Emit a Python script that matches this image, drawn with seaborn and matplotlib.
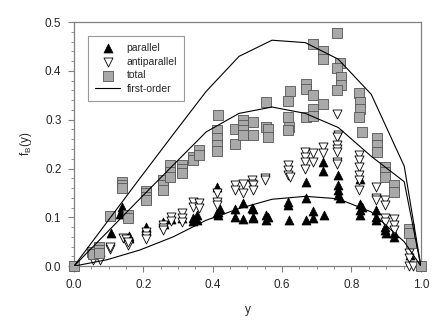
import matplotlib
matplotlib.use("Agg")
import matplotlib.pyplot as plt
import seaborn as sns
from matplotlib.ticker import MultipleLocator

# parallel (black up-triangles)
par_x = [0.0, 0.106, 0.137, 0.137, 0.134, 0.159, 0.159, 0.207, 0.207, 0.257, 0.26,
         0.279, 0.31, 0.344, 0.344, 0.354, 0.354, 0.411, 0.416, 0.416, 0.411, 0.421,
         0.464, 0.464, 0.486, 0.488, 0.512, 0.517, 0.515, 0.515, 0.555, 0.555, 0.56,
         0.618, 0.618, 0.62, 0.669, 0.669, 0.669, 0.69, 0.69, 0.718, 0.718, 0.72,
         0.762, 0.762, 0.762, 0.762, 0.767, 0.824, 0.824, 0.824, 0.824, 0.829,
         0.872, 0.872, 0.872, 0.896, 0.896, 0.899, 0.922, 0.922, 0.968, 1.0]
par_y = [0.0, 0.068, 0.122, 0.114, 0.107, 0.061, 0.057, 0.08, 0.074, 0.091, 0.086,
         0.096, 0.098, 0.098, 0.093, 0.105, 0.094, 0.163, 0.111, 0.105, 0.108, 0.118,
         0.118, 0.101, 0.13, 0.096, 0.12, 0.101, 0.118, 0.098, 0.105, 0.094, 0.1,
         0.132, 0.125, 0.094, 0.173, 0.139, 0.094, 0.113, 0.098, 0.214, 0.195, 0.105,
         0.186, 0.166, 0.156, 0.145, 0.139, 0.178, 0.128, 0.115, 0.105, 0.122,
         0.115, 0.1, 0.094, 0.081, 0.074, 0.067, 0.067, 0.06, 0.023, 0.0]

# antiparallel (white down-triangles)
anti_x = [0.0, 0.054, 0.075, 0.104, 0.104, 0.14, 0.15, 0.156, 0.156, 0.207, 0.207, 0.207,
          0.257, 0.257, 0.257, 0.279, 0.279, 0.31, 0.31, 0.31, 0.344, 0.344, 0.361, 0.361,
          0.411, 0.411, 0.411, 0.464, 0.464, 0.488, 0.488, 0.512, 0.512, 0.515, 0.515,
          0.55, 0.55, 0.618, 0.618, 0.618, 0.622, 0.666, 0.666, 0.666, 0.666, 0.69, 0.69,
          0.718, 0.718, 0.759, 0.762, 0.759, 0.759, 0.759, 0.759, 0.759, 0.759,
          0.822, 0.822, 0.822, 0.822, 0.822, 0.822, 0.872, 0.87, 0.872, 0.896, 0.896,
          0.896, 0.896, 0.922, 0.922, 0.922, 0.966, 0.966, 0.966, 0.976]
anti_y = [0.0, 0.012, 0.012, 0.036, 0.04, 0.057, 0.055, 0.043, 0.05, 0.07, 0.061, 0.055,
          0.084, 0.079, 0.074, 0.101, 0.093, 0.108, 0.098, 0.091, 0.132, 0.122, 0.13, 0.12,
          0.149, 0.132, 0.125, 0.166, 0.156, 0.169, 0.15, 0.176, 0.168, 0.166, 0.156,
          0.18, 0.176, 0.207, 0.197, 0.186, 0.183, 0.234, 0.224, 0.214, 0.2, 0.231, 0.214,
          0.244, 0.231, 0.311, 0.268, 0.265, 0.248, 0.241, 0.234, 0.214, 0.21,
          0.227, 0.217, 0.203, 0.186, 0.176, 0.156, 0.162, 0.139, 0.135, 0.135, 0.125,
          0.098, 0.091, 0.096, 0.084, 0.074, 0.026, 0.016, 0.0, 0.0]

# total (grey squares)
tot_x = [0.0, 0.051, 0.054, 0.073, 0.073, 0.073, 0.104, 0.157, 0.157, 0.137, 0.137, 0.137,
         0.207, 0.207, 0.207, 0.207, 0.257, 0.257, 0.257, 0.277, 0.277, 0.277,
         0.31, 0.31, 0.31, 0.344, 0.344, 0.361, 0.361, 0.411, 0.411, 0.411, 0.411, 0.416,
         0.464, 0.464, 0.486, 0.486, 0.486, 0.486, 0.515, 0.515, 0.553, 0.555, 0.56, 0.56,
         0.618, 0.622, 0.618, 0.621, 0.618, 0.669, 0.669, 0.669, 0.69, 0.69, 0.69, 0.69,
         0.718, 0.718, 0.718, 0.759, 0.767, 0.759, 0.769, 0.769, 0.759,
         0.822, 0.826, 0.826, 0.822, 0.829, 0.874, 0.874, 0.874, 0.896, 0.896, 0.896,
         0.922, 0.922, 0.966, 0.966, 0.973, 1.0]
tot_y = [0.0, 0.029, 0.025, 0.04, 0.033, 0.026, 0.102, 0.105, 0.098, 0.173, 0.166, 0.16,
         0.154, 0.149, 0.141, 0.135, 0.176, 0.166, 0.156, 0.207, 0.193, 0.183,
         0.207, 0.2, 0.19, 0.224, 0.217, 0.238, 0.227, 0.279, 0.262, 0.248, 0.236, 0.309,
         0.282, 0.251, 0.299, 0.289, 0.279, 0.268, 0.295, 0.268, 0.337, 0.286, 0.28, 0.265,
         0.339, 0.359, 0.306, 0.286, 0.279, 0.374, 0.364, 0.305, 0.456, 0.35, 0.321, 0.307,
         0.441, 0.424, 0.332, 0.477, 0.416, 0.407, 0.388, 0.371, 0.361,
         0.354, 0.337, 0.323, 0.306, 0.275, 0.262, 0.248, 0.234, 0.203, 0.193, 0.183,
         0.166, 0.152, 0.077, 0.067, 0.047, 0.0]

# first-order curves
fo_x = [0.0, 0.095, 0.19, 0.286, 0.381, 0.476, 0.571, 0.667, 0.762, 0.857, 0.952, 1.0]
fo_par = [0.0, 0.013, 0.033, 0.06, 0.094, 0.118, 0.137, 0.143, 0.138, 0.111, 0.05, 0.0]
fo_anti = [0.0, 0.069, 0.138, 0.207, 0.275, 0.313, 0.326, 0.313, 0.284, 0.225, 0.173, 0.0]
fo_tot = [0.0, 0.09, 0.18, 0.27, 0.358, 0.43, 0.463, 0.458, 0.424, 0.352, 0.205, 0.0]

sns.set_style("white")
plt.rcParams['font.family'] = ['Liberation Sans', 'DejaVu Sans']

fig = plt.figure(figsize=(4.43, 3.21), dpi=100)
ax = fig.add_axes([0.167, 0.171, 0.783, 0.76])

ms = 42
sns.scatterplot(x=par_x, y=par_y, marker='^', color='black', edgecolor='black',
                s=ms, linewidth=0.5, label='parallel', ax=ax, clip_on=False, zorder=3)
sns.scatterplot(x=anti_x, y=anti_y, marker='v', color='white', edgecolor='black',
                s=ms, linewidth=0.6, label='antiparallel', ax=ax, clip_on=False, zorder=3)
sns.scatterplot(x=tot_x, y=tot_y, marker='s', color='#a9a9a9', edgecolor='#555555',
                s=ms, linewidth=0.6, label='total', ax=ax, clip_on=False, zorder=3)

for vals, lab in [(fo_par, 'first-order'), (fo_anti, None), (fo_tot, None)]:
    sns.lineplot(x=fo_x, y=vals, color='black', linewidth=0.8, sort=False,
                 estimator=None, label=lab, ax=ax, zorder=4)

ax.set_xlim(0, 1.0)
ax.set_ylim(0, 0.5)
ax.xaxis.set_major_locator(MultipleLocator(0.2))
ax.xaxis.set_minor_locator(MultipleLocator(0.05))
ax.yaxis.set_major_locator(MultipleLocator(0.1))
ax.yaxis.set_minor_locator(MultipleLocator(0.02))
ax.xaxis.set_major_formatter(plt.FormatStrFormatter('%.1f'))
ax.yaxis.set_major_formatter(plt.FormatStrFormatter('%.1f'))
ax.tick_params(which='major', direction='out', length=4, width=0.8, color='#808080',
               labelsize=8.5, bottom=True, left=True, pad=5)
ax.tick_params(which='minor', direction='out', length=2, width=0.6, color='#808080',
               bottom=True, left=True)
for sp in ax.spines.values():
    sp.set_color('#808080')
    sp.set_linewidth(0.9)

ax.set_xlabel('y', fontsize=8.5, labelpad=10)
ax.set_ylabel(r'f$_\mathregular{B}$(y)', fontsize=8.5, labelpad=8)

leg = ax.legend(loc='upper left', bbox_to_anchor=(0.025, 0.965), fontsize=7.5,
                frameon=True, fancybox=False, edgecolor='#808080',
                handlelength=2.4, handletextpad=0.6, labelspacing=0.35, borderpad=0.7)
leg.get_frame().set_linewidth(0.8)

fig.savefig('out.png', dpi=100)
